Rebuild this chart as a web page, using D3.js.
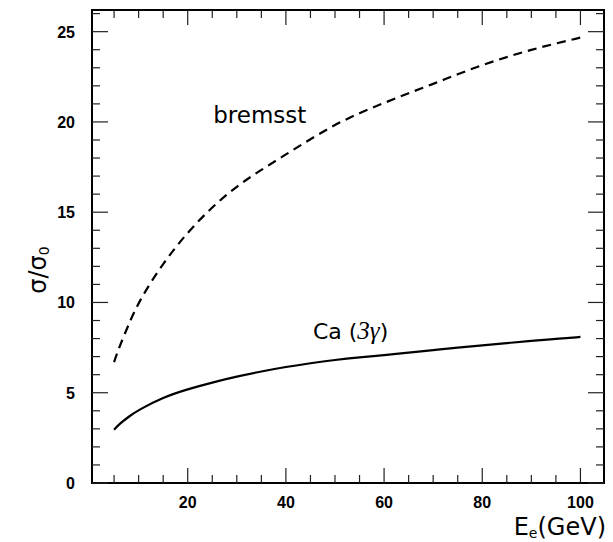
<!DOCTYPE html>
<html>
<head>
<meta charset="utf-8">
<script src="https://cdn.jsdelivr.net/npm/d3@7"></script>
<style>
	body { margin: 0; background: #fff; }
	.lbl { font-family: "Liberation Sans", Arial, sans-serif; font-weight: bold; font-size: 16px; fill: #000; }
</style>
</head>
<body>
<script>
// energies (GeV)
var energy = [5, 6, 8, 10, 15, 20, 25, 30, 35, 40, 45, 50, 55, 60, 65, 70, 75, 80, 85, 90, 95, 100];
// sigma / sigma0, bremsstrahlung (dashed)
var bremsst = [6.7, 7.5, 8.8, 10.05, 12.2, 13.9, 15.3, 16.45, 17.35, 18.2, 19.05, 19.85, 20.5, 21.05, 21.6, 22.1, 22.65, 23.15, 23.6, 24.0, 24.35, 24.67];
// sigma / sigma0, Ca (3 gamma) (solid)
var ca3g = [2.95, 3.25, 3.68, 4.05, 4.75, 5.2, 5.57, 5.9, 6.18, 6.43, 6.64, 6.82, 6.96, 7.08, 7.22, 7.36, 7.5, 7.63, 7.75, 7.87, 7.98, 8.09];

var xMajor = [20, 40, 60, 80, 100];
var xMinor = [5, 10, 15, 25, 30, 35, 45, 50, 55, 65, 70, 75, 85, 90, 95];
var yMajor = [0, 5, 10, 15, 20, 25];
var yMinor = [1, 2, 3, 4, 6, 7, 8, 9, 11, 12, 13, 14, 16, 17, 18, 19, 21, 22, 23, 24, 26];

(function(d3) {
	var width = 613;
	var height = 542;
	var mLeft = 92, mTop = 10, mRight = 604, mBottom = 483;

	var svg = d3.select("body").append("svg")
		.attr("width", width)
		.attr("height", height);

	var x = d3.scaleLinear().domain([0.5, 104.8]).range([mLeft, mRight]);
	var y = d3.scaleLinear().domain([0, 26.2]).range([mBottom, mTop]);

	// frame first, so nothing is drawn under it
	svg.append("rect")
		.attr("x", mLeft)
		.attr("y", mTop)
		.attr("width", mRight - mLeft)
		.attr("height", mBottom - mTop)
		.style("fill", "none")
		.attr("stroke", "#000")
		.attr("stroke-width", 2);

	// tick marks, inward on all four sides
	function xTicks(cls, values, len) {
		svg.selectAll("line." + cls + "b").data(values).enter().append("line")
			.attr("class", cls + "b")
			.attr("x1", function(d) { return x(d); })
			.attr("x2", function(d) { return x(d); })
			.attr("y1", mBottom)
			.attr("y2", mBottom - len)
			.attr("stroke", "#222")
			.attr("stroke-width", 1.2);
		svg.selectAll("line." + cls + "t").data(values).enter().append("line")
			.attr("class", cls + "t")
			.attr("x1", function(d) { return x(d); })
			.attr("x2", function(d) { return x(d); })
			.attr("y1", mTop)
			.attr("y2", mTop + len)
			.attr("stroke", "#222")
			.attr("stroke-width", 1.2);
	}
	function yTicks(cls, values, len) {
		svg.selectAll("line." + cls + "l").data(values).enter().append("line")
			.attr("class", cls + "l")
			.attr("x1", mLeft)
			.attr("x2", mLeft + len)
			.attr("y1", function(d) { return y(d); })
			.attr("y2", function(d) { return y(d); })
			.attr("stroke", "#222")
			.attr("stroke-width", 1.2);
		svg.selectAll("line." + cls + "r").data(values).enter().append("line")
			.attr("class", cls + "r")
			.attr("x1", mRight)
			.attr("x2", mRight - len)
			.attr("y1", function(d) { return y(d); })
			.attr("y2", function(d) { return y(d); })
			.attr("stroke", "#222")
			.attr("stroke-width", 1.2);
	}
	xTicks("xmin", xMinor, 8);
	xTicks("xmaj", xMajor, 15);
	yTicks("ymin", yMinor, 8);
	yTicks("ymaj", yMajor, 16);

	svg.selectAll(".xl")
		.data(xMajor)
		.enter().append("text")
		.attr("class", "lbl")
		.attr("x", function(d) { return x(d); })
		.attr("y", 508)
		.attr("text-anchor", "middle")
		.text(function(d) { return d; });

	svg.selectAll(".yl")
		.data(yMajor)
		.enter().append("text")
		.attr("class", "lbl")
		.attr("x", 75)
		.attr("y", function(d) { return y(d) + 6; })
		.attr("text-anchor", "end")
		.text(function(d) { return d; });

	var line = d3.line()
		.x(function(d) { return x(d[0]); })
		.y(function(d) { return y(d[1]); })
		.curve(d3.curveBasis);

	svg.append("path")
		.datum(d3.zip(energy, bremsst))
		.attr("d", line)
		.attr("fill", "none")
		.attr("stroke", "#000")
		.attr("stroke-width", 2.2)
		.attr("stroke-dasharray", "9,6");

	svg.append("path")
		.datum(d3.zip(energy, ca3g))
		.attr("d", line)
		.attr("fill", "none")
		.attr("stroke", "#000")
		.attr("stroke-width", 2.2);

	// curve labels
	svg.append("text")
		.attr("x", x(25.2))
		.attr("y", y(19.95))
		.attr("font-family", "DejaVu Sans, sans-serif")
		.attr("font-size", "23px")
		.text("bremsst");

	var ca = svg.append("text")
		.attr("x", x(45.5))
		.attr("y", y(8.0))
		.attr("font-family", "DejaVu Sans, sans-serif")
		.attr("font-size", "22px");
	ca.append("tspan").text("Ca (");
	ca.append("tspan").attr("font-style", "italic").attr("font-family", "Liberation Serif, serif").attr("font-size", "25px").text("3γ");
	ca.append("tspan").text(")");

	// axis titles
	var xt = svg.append("text")
		.attr("x", 606)
		.attr("y", 535)
		.attr("text-anchor", "end")
		.attr("font-family", "DejaVu Sans, sans-serif")
		.attr("font-size", "24px");
	xt.append("tspan").text("E");
	xt.append("tspan").attr("font-size", "14px").attr("dy", 3).text("e");
	xt.append("tspan").attr("dy", -3).text("(GeV)");

	var yt = svg.append("text")
		.attr("transform", "translate(46,270) rotate(-90)")
		.attr("text-anchor", "middle")
		.attr("font-family", "DejaVu Sans, sans-serif")
		.attr("font-size", "24px");
	yt.append("tspan").text("σ/σ");
	yt.append("tspan").attr("font-size", "14px").attr("dy", 3).text("0");
})(d3);
</script>
</body>
</html>
